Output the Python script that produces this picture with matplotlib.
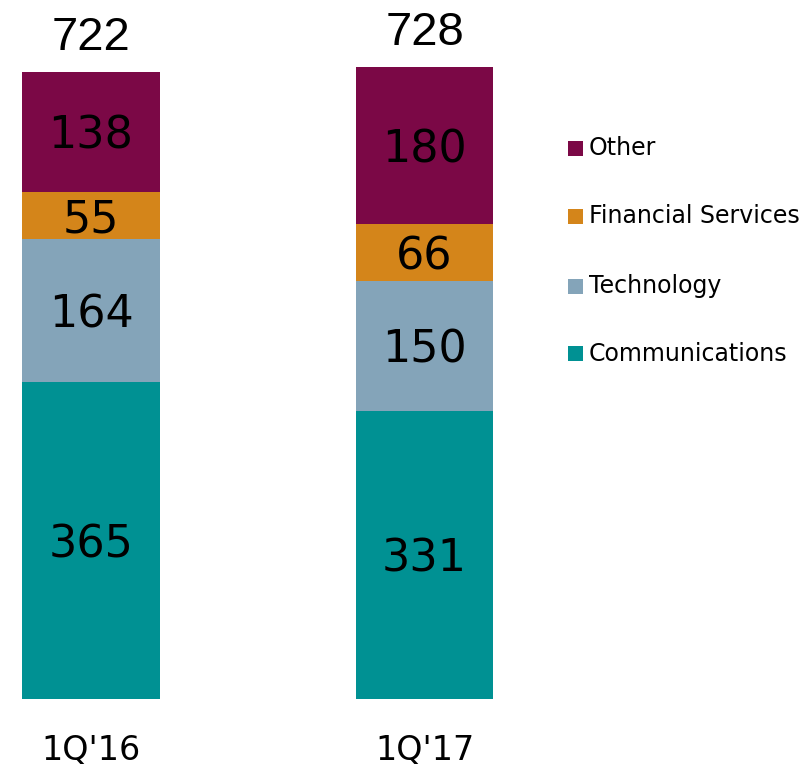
import matplotlib.pyplot as plt
from matplotlib.patches import Rectangle

quarters = ["1Q'16", "1Q'17"]
segments = ['Communications', 'Technology', 'Financial Services', 'Other']
communications = [365, 331]
technology = [164, 150]
financial = [55, 66]
other = [138, 180]
totals = [722, 728]

colors = {
    'Communications': '#009193',
    'Technology': '#84a4b9',
    'Financial Services': '#d4851a',
    'Other': '#7b0846',
}

values = {
    'Communications': communications,
    'Technology': technology,
    'Financial Services': financial,
    'Other': other,
}

fig = plt.figure(figsize=(8, 7.69), dpi=100)
# axes: bottom at bar base, spanning left part of the figure
ax = fig.add_axes([0, 70 / 769, 540 / 800, 699 / 769])
ax.set_xlim(-0.273, 1.346)
ax.set_ylim(0, 804.4)
ax.axis('off')

x = [0, 1]
width = 0.413
bottom = [0, 0]
for seg in segments:
    vals = values[seg]
    ax.bar(x, vals, width, bottom=bottom, color=colors[seg], linewidth=0)
    for xi, b, v in zip(x, bottom, vals):
        ax.annotate(str(v), (xi, b + v / 2), xytext=(0, -3), textcoords='offset points',
                    ha='center', va='center', fontsize=32,
                    family='DejaVu Sans', color='black')
    bottom = [b + v for b, v in zip(bottom, vals)]

for xi, t in zip(x, totals):
    ax.annotate(str(t), (xi, t), xytext=(0, 8.5), textcoords='offset points',
                ha='center', va='bottom', fontsize=34,
                family='Liberation Sans', color='black')

for xi, q in zip(x, quarters):
    ax.annotate(q, (xi, 0), xytext=(0, -37), textcoords='offset points',
                ha='center', va='center', fontsize=24,
                family='DejaVu Sans', color='black')

# legend drawn by hand to get the wide row spacing
leg_y = [148, 216, 286, 354]
for seg, y in zip(segments[::-1], leg_y):
    fig.add_artist(Rectangle((568 / 800, 1 - (y + 7.5) / 769), 15 / 800, 15 / 769,
                             transform=fig.transFigure, color=colors[seg], lw=0))
    fig.text(589 / 800, 1 - y / 769, seg, ha='left', va='center',
             fontsize=17, family='DejaVu Sans', color='black')

fig.savefig('out.png', dpi=100)
